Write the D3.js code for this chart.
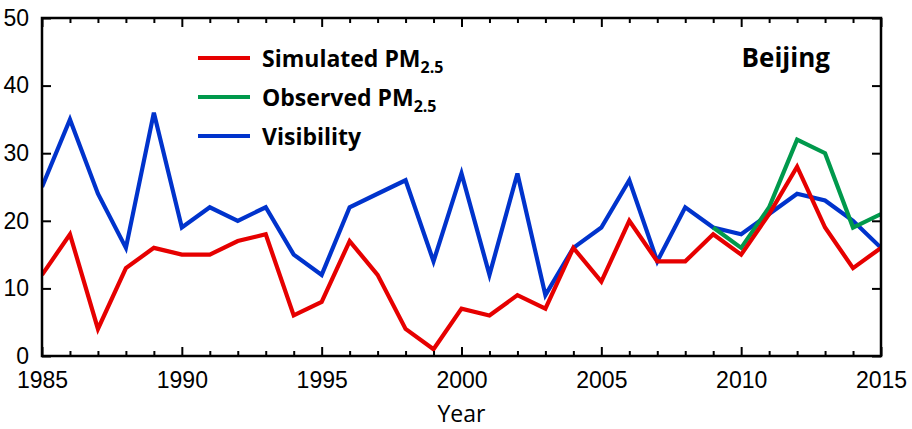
<!DOCTYPE html>
<html>
<head>
<meta charset="utf-8">
<script src="https://cdn.jsdelivr.net/npm/d3@7"></script>
<style>
  html, body { margin: 0; padding: 0; background: #fff; }
  svg { display: block; font-family: "Open Sans", sans-serif; }
</style>
</head>
<body>
<svg id="chart" width="912" height="429"></svg>
<script>
// Annual series for Beijing, 1985–2015
const years = d3.range(1985, 2016);
const simulated = [12, 18, 4, 13, 16, 15, 15, 17, 18, 6, 8, 17, 12, 4, 1, 7, 6, 9, 7, 16, 11, 20, 14, 14, 18, 15, 21, 28, 19, 13, 16];
const visibility = [25, 35, 24, 16, 36, 19, 22, 20, 22, 15, 12, 22, 24, 26, 14, 27, 12, 27, 9, 16, 19, 26, 14, 22, 19, 18, 21, 24, 23, 20, 16];
const observedYears = [2009, 2010, 2011, 2012, 2013, 2014, 2015];
const observed = [19, 16, 22, 32, 30, 19, 21];
const xTicks = [1985, 1990, 1995, 2000, 2005, 2010, 2015];
const yTicks = [0, 10, 20, 30, 40, 50];
const seriesNames = ["Simulated PM", "Observed PM", "Visibility"];
const seriesSubs = ["2.5", "2.5", ""];
const colors = ["#e60000", "#00994c", "#0033cc"];

const svg = d3.select("#chart");
const m = { left: 42, right: 31, top: 18, bottom: 73 };
const W = 912, H = 429;

const x = d3.scaleLinear().domain([1985, 2015]).range([m.left, W - m.right]);
const y = d3.scaleLinear().domain([0, 50]).range([H - m.bottom, m.top]);

const line = d3.line().x(d => x(d[0])).y(d => y(d[1]));

// series lines
const series = [
  years.map((yr, i) => [yr, simulated[i]]),
  observedYears.map((yr, i) => [yr, observed[i]]),
  years.map((yr, i) => [yr, visibility[i]])
];
const drawOrder = [2, 1, 0];
const plot = svg.append("g");
plot.append("clipPath").attr("id", "clip").append("rect")
  .attr("x", m.left).attr("y", m.top)
  .attr("width", W - m.left - m.right).attr("height", H - m.top - m.bottom);
drawOrder.forEach(k => {
  plot.append("path")
    .datum(series[k])
    .attr("clip-path", "url(#clip)")
    .attr("fill", "none")
    .attr("stroke", colors[k])
    .attr("stroke-width", 4.2)
    .attr("stroke-linejoin", "miter")
    .attr("d", line);
});

// axes: inward ticks, yearly minor ticks on x
const minorYears = years.filter(yr => !xTicks.includes(yr));
const axisStyle = g => {
  g.select(".domain").remove();
  g.selectAll(".tick line").attr("stroke", "#000").attr("stroke-width", 2);
  g.selectAll("text").attr("fill", "#000").attr("font-size", 23);
};

// bottom
svg.append("g").attr("transform", `translate(0,${y(0)})`)
  .call(d3.axisBottom(x).tickValues(xTicks).tickFormat(d3.format("d")).tickSizeInner(-9).tickSizeOuter(0).tickPadding(16))
  .call(axisStyle);
svg.append("g").attr("transform", `translate(0,${y(0)})`)
  .call(d3.axisBottom(x).tickValues(minorYears).tickFormat("").tickSizeInner(-5).tickSizeOuter(0))
  .call(axisStyle);
// top
svg.append("g").attr("transform", `translate(0,${y(50)})`)
  .call(d3.axisTop(x).tickValues(xTicks).tickFormat("").tickSizeInner(-9).tickSizeOuter(0))
  .call(axisStyle);
svg.append("g").attr("transform", `translate(0,${y(50)})`)
  .call(d3.axisTop(x).tickValues(minorYears).tickFormat("").tickSizeInner(-5).tickSizeOuter(0))
  .call(axisStyle);
// left
svg.append("g").attr("transform", `translate(${x(1985)},0)`)
  .call(d3.axisLeft(y).tickValues(yTicks).tickSizeInner(-9).tickSizeOuter(0).tickPadding(13))
  .call(axisStyle);
// right
svg.append("g").attr("transform", `translate(${x(2015)},0)`)
  .call(d3.axisRight(y).tickValues(yTicks).tickFormat("").tickSizeInner(-9).tickSizeOuter(0))
  .call(axisStyle);

// frame
svg.append("rect")
  .attr("x", x(1985)).attr("y", y(50))
  .attr("width", x(2015) - x(1985)).attr("height", y(0) - y(50))
  .attr("fill", "none").attr("stroke", "#000").attr("stroke-width", 2.5);

// axis title
svg.append("text")
  .attr("x", (x(1985) + x(2015)) / 2).attr("y", 422)
  .attr("text-anchor", "middle").attr("font-size", 23).attr("fill", "#000")
  .text("Year");

// panel label
svg.append("text")
  .attr("x", 830).attr("y", 67)
  .attr("text-anchor", "end").attr("font-size", 26).attr("font-weight", "bold").attr("fill", "#000")
  .text("Beijing");

// legend
const legend = svg.append("g");
seriesNames.forEach((name, i) => {
  const cy = 58 + i * 39;
  legend.append("line")
    .attr("x1", 198).attr("x2", 250).attr("y1", cy).attr("y2", cy)
    .attr("stroke", colors[i]).attr("stroke-width", 4);
  const t = legend.append("text")
    .attr("x", 262).attr("y", cy + 9)
    .attr("font-size", 23).attr("font-weight", "bold").attr("fill", "#000");
  t.append("tspan").text(name);
  if (seriesSubs[i]) {
    t.append("tspan").attr("font-size", 16).attr("dy", 6).text(seriesSubs[i]);
  }
});
</script>
</body>
</html>
